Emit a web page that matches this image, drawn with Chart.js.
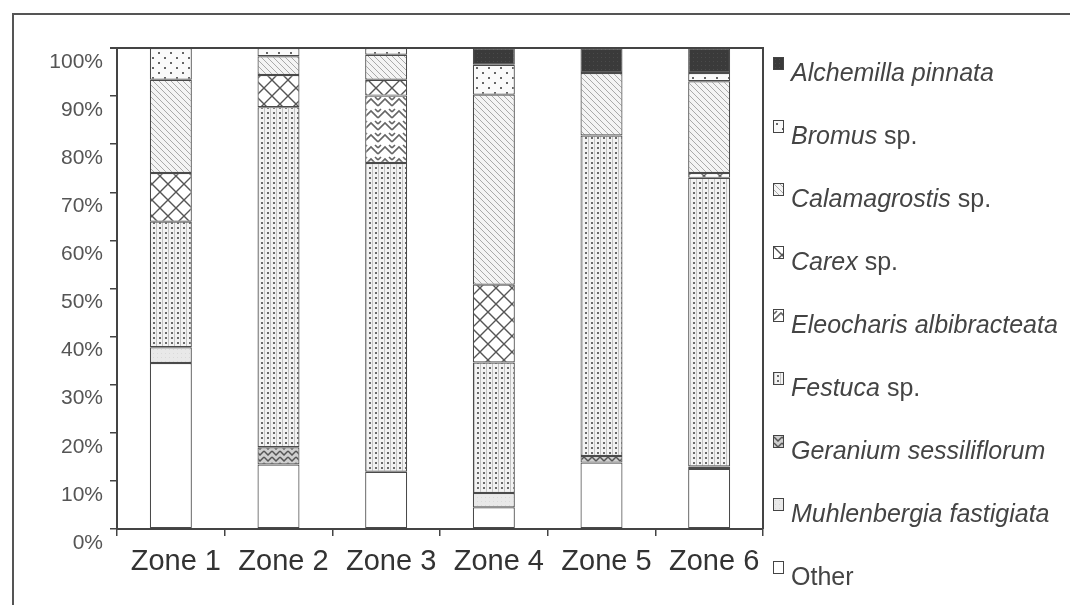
<!DOCTYPE html>
<html>
<head>
<meta charset="utf-8">
<script src="https://cdn.jsdelivr.net/npm/chart.js@4.4.1/dist/chart.umd.min.js"></script>
<style>
  html, body { margin: 0; padding: 0; background: #fff; }
  #wrap { position: relative; width: 1070px; height: 605px; overflow: hidden; }
  #frame { position: absolute; left: 12px; top: 13px; right: -10px; bottom: -10px; border-left: 2px solid #555; border-top: 2px solid #555; }
  #chart { position: absolute; left: 0; top: 0; }
  #legend { position: absolute; left: 0; top: 0; font-family: 'Liberation Sans', Arial, sans-serif; color: #444; }
  .row { position: absolute; white-space: nowrap; }
  .mk { position: absolute; left: 0; top: 0; width: 9px; height: 11px; border: 1px solid #444; }
  .tx { position: absolute; left: 18px; top: 1px; font-size: 25px; line-height: 29px; }
  .tx i { font-style: italic; }
</style>
</head>
<body>
<div id="wrap">
  <div id="frame"></div>
  <canvas id="chart" width="1070" height="605"></canvas>
  <div id="legend"></div>
</div>
<script>
// ---------- dados (percentual, de baixo para cima na pilha) ----------
const zones = ['Zone 1', 'Zone 2', 'Zone 3', 'Zone 4', 'Zone 5', 'Zone 6'];
const other         = [34.5, 13.4, 11.9,  4.5, 13.8, 12.5];
const muhlenbergia  = [ 3.3,  0,    0,    3.0,  0,    0  ];
const geranium      = [ 0,    3.6,  0,    0,    1.4,  0.5];
const festuca       = [26.1, 70.7, 64.2, 27.1, 66.6, 60.0];
const eleocharis    = [ 0,    0,   14.0,  0,    0,    0  ];
const carex         = [10.1,  6.7,  3.3, 16.2,  0,    1.0];
const calamagrostis = [19.4,  3.9,  5.2, 39.5, 13.0, 19.1];
const bromus        = [ 6.6,  1.7,  1.4,  6.2,  0,    1.7];
const alchemilla    = [ 0,    0,    0,    3.5,  5.2,  5.2];
const yTicks = [0, 10, 20, 30, 40, 50, 60, 70, 80, 90, 100];

const FONT = "'Liberation Sans', Arial, sans-serif";
const EDGE = '#4a4a4a';

// ---------- padrões (hachuras) ----------
function tile(w, h, draw) {
  const c = document.createElement('canvas');
  c.width = w; c.height = h;
  draw(c.getContext('2d'), w, h);
  return c;
}
const tiles = {
  other: tile(4, 4, (g, w, h) => { g.fillStyle = '#fff'; g.fillRect(0, 0, w, h); }),
  muhl: tile(4, 4, (g, w, h) => { g.fillStyle = '#e9e9e9'; g.fillRect(0, 0, w, h); g.fillStyle = '#dadada'; g.fillRect(1, 1, 1, 1); }),
  geranium: tile(8, 6, (g, w, h) => {
    g.fillStyle = '#cfcfcf'; g.fillRect(0, 0, w, h);
    g.strokeStyle = '#555'; g.lineWidth = 1.5;
    g.beginPath(); g.moveTo(0, 1); g.lineTo(4, 5); g.lineTo(8, 1); g.stroke();
  }),
  festuca: tile(6, 5, (g, w, h) => {
    g.fillStyle = '#f3f3f3'; g.fillRect(0, 0, w, h);
    g.fillStyle = '#c4c4c4'; g.fillRect(0, 0, 1, h);
    g.fillStyle = '#6a6a6a'; g.fillRect(3, 2, 2, 2);
  }),
  eleocharis: tile(14, 12, (g, w, h) => {
    g.fillStyle = '#fff'; g.fillRect(0, 0, w, h);
    g.strokeStyle = '#666'; g.lineWidth = 1.6;
    g.beginPath(); g.moveTo(0, 10); g.lineTo(7, 3); g.lineTo(14, 10); g.stroke();
    g.beginPath(); g.moveTo(0, 4); g.lineTo(3, 1); g.moveTo(14, 4); g.lineTo(11, 1); g.stroke();
  }),
  carex: tile(16, 16, (g, w, h) => {
    g.fillStyle = '#fff'; g.fillRect(0, 0, w, h);
    g.strokeStyle = '#555'; g.lineWidth = 1.4;
    g.beginPath(); g.moveTo(0, 0); g.lineTo(16, 16); g.moveTo(16, 0); g.lineTo(0, 16); g.stroke();
  }),
  calamagrostis: tile(6, 6, (g, w, h) => {
    g.fillStyle = '#f4f4f4'; g.fillRect(0, 0, w, h);
    g.strokeStyle = '#a9a9a9'; g.lineWidth = 1;
    g.beginPath(); g.moveTo(-1, -1); g.lineTo(7, 7); g.moveTo(-1, 5); g.lineTo(1, 7); g.moveTo(5, -1); g.lineTo(7, 1); g.stroke();
  }),
  bromus: tile(12, 10, (g, w, h) => {
    g.fillStyle = '#fafafa'; g.fillRect(0, 0, w, h);
    g.fillStyle = '#666'; g.fillRect(2, 2, 2, 2); g.fillRect(8, 7, 2, 2);
  }),
  alchemilla: tile(4, 4, (g, w, h) => { g.fillStyle = '#3a3a3a'; g.fillRect(0, 0, w, h); g.fillStyle = '#4a4a4a'; g.fillRect(1, 1, 1, 1); }),
};
const pctx = document.createElement('canvas').getContext('2d');
const pat = (k) => pctx.createPattern(tiles[k], 'repeat');

// ordem da pilha: primeiro = base
const series = [
  { name: 'Other', genus: '', data: other, t: 'other' },
  { name: 'Muhlenbergia fastigiata', genus: 'Muhlenbergia fastigiata', data: muhlenbergia, t: 'muhl' },
  { name: 'Geranium sessiliflorum', genus: 'Geranium sessiliflorum', data: geranium, t: 'geranium' },
  { name: 'Festuca sp.', genus: 'Festuca', data: festuca, t: 'festuca' },
  { name: 'Eleocharis albibracteata', genus: 'Eleocharis albibracteata', data: eleocharis, t: 'eleocharis' },
  { name: 'Carex sp.', genus: 'Carex', data: carex, t: 'carex' },
  { name: 'Calamagrostis sp.', genus: 'Calamagrostis', data: calamagrostis, t: 'calamagrostis' },
  { name: 'Bromus sp.', genus: 'Bromus', data: bromus, t: 'bromus' },
  { name: 'Alchemilla pinnata', genus: 'Alchemilla pinnata', data: alchemilla, t: 'alchemilla' },
];

// ---------- legenda (html) ----------
const leg = document.getElementById('legend');
series.slice().reverse().forEach((s, i) => {
  const row = document.createElement('div');
  row.className = 'row';
  row.style.left = '773px';
  row.style.top = (57 + i * 63) + 'px';
  const rest = s.name.slice(s.genus.length);
  row.innerHTML = '<span class="mk" style="background-image:url(' + tiles[s.t].toDataURL() + ')"></span>' +
    '<span class="tx">' + (s.genus ? '<i>' + s.genus + '</i>' : '') + rest + '</span>';
  leg.appendChild(row);
});

// ---------- moldura da área do gráfico ----------
const plotBox = {
  id: 'plotBox',
  afterDatasetsDraw(c) {
    const a = c.chartArea, g = c.ctx;
    g.save();
    g.strokeStyle = '#444'; g.lineWidth = 2;
    g.beginPath();
    g.moveTo(a.left - 7, a.top); g.lineTo(a.right, a.top); g.lineTo(a.right, a.bottom);
    g.stroke();
    g.restore();
  },
};

new Chart(document.getElementById('chart'), {
  type: 'bar',
  data: {
    labels: zones,
    datasets: series.map((s) => ({
      label: s.name, data: s.data, backgroundColor: pat(s.t),
      borderColor: EDGE, borderWidth: 1.2, borderSkipped: false,
      categoryPercentage: 1, barPercentage: 0.39, stack: 'z',
    })),
  },
  options: {
    responsive: false, animation: false, devicePixelRatio: 1,
    layout: { padding: { top: 48, left: 0, right: 307, bottom: 0 } },
    plugins: { legend: { display: false }, tooltip: { enabled: false } },
    scales: {
      x: {
        stacked: true,
        grid: { display: true, offset: true, drawOnChartArea: false, tickLength: 7, color: '#444', lineWidth: 1.5 },
        border: { display: true, color: '#444', width: 2 },
        ticks: { color: '#333', font: { family: FONT, size: 29 }, padding: 9, labelOffset: 5, maxRotation: 0, autoSkip: false },
        afterFit: (s) => { s.height = 76; s.paddingLeft = 0; s.paddingRight = 0; },
      },
      y: {
        stacked: true, min: 0, max: 100,
        afterBuildTicks: (s) => { s.ticks = yTicks.map((v) => ({ value: v })); },
        grid: { display: true, drawOnChartArea: false, tickLength: 7, color: '#444', lineWidth: 1.5 },
        border: { display: true, color: '#444', width: 2 },
        ticks: { color: '#555', font: { family: FONT, size: 21 }, padding: 7, labelOffset: 14, callback: (v) => v + '%' },
        afterFit: (s) => { s.width = 117; s.paddingTop = 0; s.paddingBottom = 0; },
      },
    },
  },
  plugins: [plotBox],
});
</script>
</body>
</html>
